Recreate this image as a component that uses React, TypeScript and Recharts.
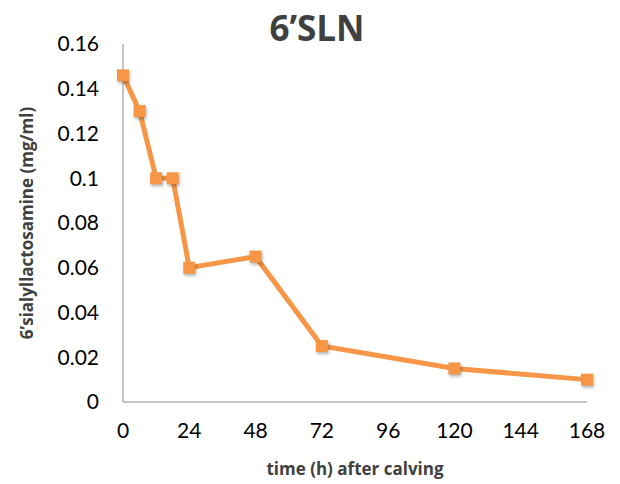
import React from 'react';
import { LineChart, Line, XAxis, YAxis, Label } from 'recharts';

const hours = [0, 6, 12, 18, 24, 48, 72, 120, 168];
const sln = [0.146, 0.13, 0.1, 0.1, 0.06, 0.065, 0.025, 0.015, 0.01];
const xTicks = [0, 24, 48, 72, 96, 120, 144, 168];
const yTicks = [0, 0.02, 0.04, 0.06, 0.08, 0.1, 0.12, 0.14, 0.16];

const data = hours.map((h, i) => ({ h, v: sln[i] }));

const ORANGE = '#F79646';
const TEXT = '#404040';

const SquareDot = (props: any) => {
  const { cx, cy } = props;
  if (cx == null || cy == null) return null;
  return (
    <rect
      x={cx - 6}
      y={cy - 6}
      width={12}
      height={12}
      fill={ORANGE}
      style={{ filter: 'drop-shadow(1px 2px 1.5px rgba(0,0,0,0.3))' }}
    />
  );
};

const App = () => {
  return (
    <div style={{ position: 'absolute', left: 0, top: 0, width: 620, height: 484, background: '#fff' }}>
      <div
        style={{
          position: 'absolute',
          left: 0,
          width: 634,
          top: 3,
          textAlign: 'center',
          fontFamily: '"Open Sans", sans-serif',
          fontWeight: 700,
          fontSize: 35,
          lineHeight: '50px',
          color: TEXT,
        }}
      >
        6’SLN
      </div>
      <LineChart width={620} height={484} data={data} margin={{ top: 44, right: 33, bottom: 0, left: 0 }}>
        <XAxis
          dataKey="h"
          type="number"
          domain={[0, 168]}
          ticks={xTicks}
          tickLine={false}
          tickSize={0}
          tickMargin={21}
          height={82}
          axisLine={{ stroke: '#8c8c8c' }}
          tick={{ fill: '#000', fontSize: 21, fontFamily: 'Lato, sans-serif' }}
        >
          <Label
            value="time (h) after calving"
            position="insideBottom"
            offset={9}
            style={{ fill: TEXT, fontSize: 17, fontWeight: 700, fontFamily: '"Open Sans", sans-serif' }}
          />
        </XAxis>
        <YAxis
          type="number"
          domain={[0, 0.16]}
          ticks={yTicks}
          width={123}
          tickLine={false}
          tickSize={0}
          tickMargin={24}
          axisLine={{ stroke: '#8c8c8c' }}
          tickFormatter={(v: number) => String(v)}
          tick={{ fill: '#000', fontSize: 21, fontFamily: 'Lato, sans-serif' }}
        >
          <Label
            value="6’sialyllactosamine (mg/ml)"
            angle={-90}
            position="insideLeft"
            offset={27}
            style={{ textAnchor: 'middle', fill: TEXT, fontSize: 17, fontWeight: 700, fontFamily: '"Open Sans", sans-serif' }}
          />
        </YAxis>
        <Line
          type="linear"
          dataKey="v"
          stroke={ORANGE}
          strokeWidth={5}
          dot={<SquareDot />}
          activeDot={false}
          isAnimationActive={false}
        />
      </LineChart>
    </div>
  );
};

export default App;
